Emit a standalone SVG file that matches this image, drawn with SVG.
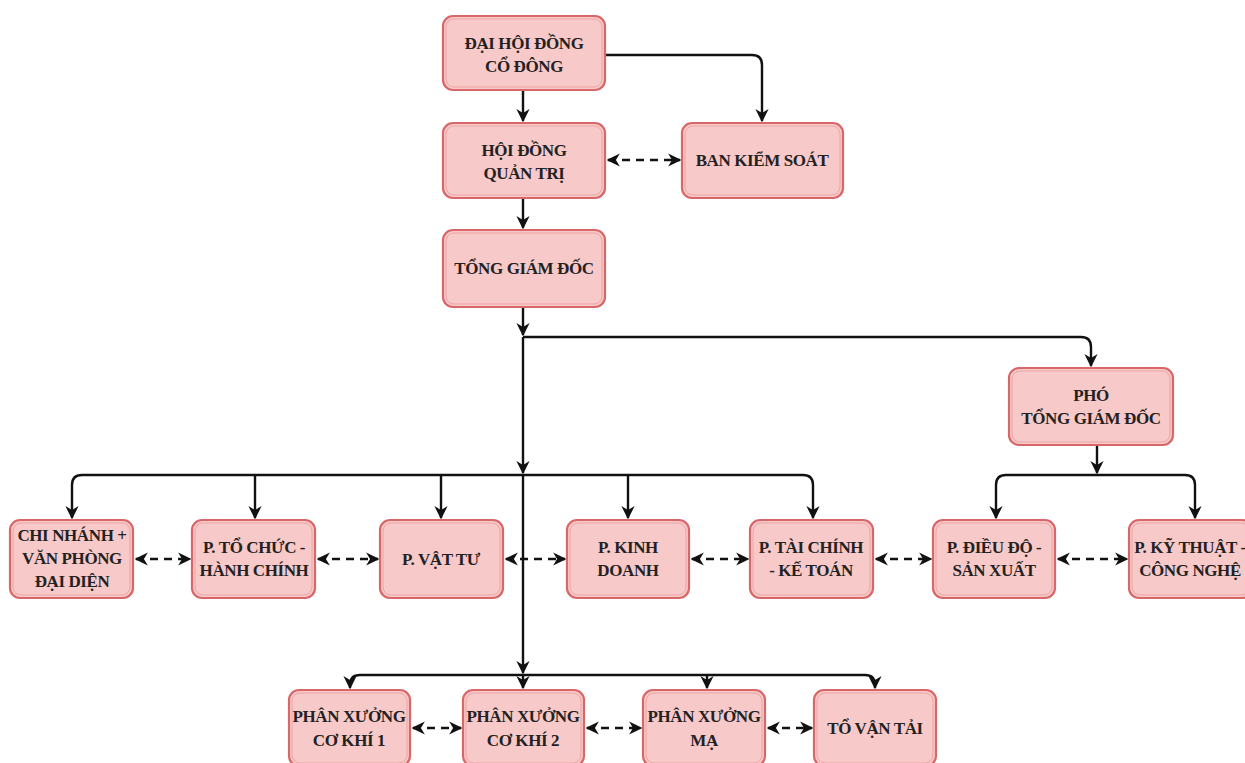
<svg xmlns="http://www.w3.org/2000/svg" width="1245" height="763" viewBox="0 0 1245 763">
<style>
.box{fill:#f8c9c9;stroke:#d8676a;stroke-width:2.2}
.inner{fill:none;stroke:#eea3a3;stroke-width:1}
.t{font-family:"Liberation Serif","Times New Roman","DejaVu Serif",serif;font-weight:bold;font-size:17px;letter-spacing:-0.4px;fill:#222;text-anchor:middle}
.e{fill:none;stroke:#111;stroke-width:2.4}
.d{fill:none;stroke:#111;stroke-width:2.4;stroke-dasharray:8 6}
</style>
<defs>
<marker id="ah" viewBox="0 0 10 10" refX="9" refY="5" markerWidth="5.5" markerHeight="5.5" orient="auto" markerUnits="strokeWidth">
<path d="M0,0 L10,5 L0,10 L3,5 z" fill="#111"/>
</marker>
<marker id="as" viewBox="0 0 10 10" refX="9" refY="5" markerWidth="5.5" markerHeight="5.5" orient="auto-start-reverse" markerUnits="strokeWidth">
<path d="M0,0 L10,5 L0,10 L3,5 z" fill="#111"/>
</marker>
</defs>
<rect width="1245" height="763" fill="#fff"/>
<g id="connectors">
<path class="e" d="M523,90 V121" marker-end="url(#ah)"/>
<path class="e" d="M605,55 H752 Q762,55 762,65 V121" marker-end="url(#ah)"/>
<path class="d" d="M608,160 H680" marker-start="url(#as)" marker-end="url(#ah)"/>
<path class="e" d="M523,198 V228" marker-end="url(#ah)"/>
<path class="e" d="M523,307 V335" marker-end="url(#ah)"/>
<path class="e" d="M523,337 H1081 Q1091,337 1091,347 V366" marker-end="url(#ah)"/>
<path class="e" d="M523,337 V473" marker-end="url(#ah)"/>
<path class="e" d="M523,475 H82 Q72,475 72,485 V518" marker-end="url(#ah)"/>
<path class="e" d="M523,475 H803 Q813,475 813,485 V518" marker-end="url(#ah)"/>
<path class="e" d="M255,475 V518" marker-end="url(#ah)"/>
<path class="e" d="M441,475 V518" marker-end="url(#ah)"/>
<path class="e" d="M628,475 V518" marker-end="url(#ah)"/>
<path class="e" d="M523,475 V673" marker-end="url(#ah)"/>
<path class="e" d="M523,675 H360 Q350,675 350,685 V688" marker-end="url(#ah)"/>
<path class="e" d="M523,675 H865 Q875,675 875,685 V688" marker-end="url(#ah)"/>
<path class="e" d="M523,675 V688" marker-end="url(#ah)"/>
<path class="e" d="M707,675 V688" marker-end="url(#ah)"/>
<path class="e" d="M1097,445 V473" marker-end="url(#ah)"/>
<path class="e" d="M1097,475 H1006 Q996,475 996,485 V518" marker-end="url(#ah)"/>
<path class="e" d="M1097,475 H1185 Q1195,475 1195,485 V518" marker-end="url(#ah)"/>
<path class="d" d="M136,559 H190" marker-start="url(#as)" marker-end="url(#ah)"/>
<path class="d" d="M318,559 H378" marker-start="url(#as)" marker-end="url(#ah)"/>
<path class="d" d="M506,559 H565" marker-start="url(#as)" marker-end="url(#ah)"/>
<path class="d" d="M692,559 H748" marker-start="url(#as)" marker-end="url(#ah)"/>
<path class="d" d="M876,559 H931" marker-start="url(#as)" marker-end="url(#ah)"/>
<path class="d" d="M1058,559 H1127" marker-start="url(#as)" marker-end="url(#ah)"/>
<path class="d" d="M413,728 H461" marker-start="url(#as)" marker-end="url(#ah)"/>
<path class="d" d="M587,728 H641" marker-start="url(#as)" marker-end="url(#ah)"/>
<path class="d" d="M768,728 H812" marker-start="url(#as)" marker-end="url(#ah)"/>
</g>
<g id="n-dhdcd"><rect class="box" x="443" y="16" width="162" height="74" rx="10"/><rect class="inner" x="446" y="19" width="156" height="68" rx="8"/><text class="t" x="524" y="49">ĐẠI HỘI ĐỒNG</text><text class="t" x="524" y="72">CỔ ĐÔNG</text></g>
<g id="n-hdqt"><rect class="box" x="443" y="123" width="162" height="75" rx="10"/><rect class="inner" x="446" y="126" width="156" height="69" rx="8"/><text class="t" x="524" y="156">HỘI ĐỒNG</text><text class="t" x="524" y="179">QUẢN TRỊ</text></g>
<g id="n-bks"><rect class="box" x="682" y="123" width="161" height="75" rx="10"/><rect class="inner" x="685" y="126" width="155" height="69" rx="8"/><text class="t" x="762" y="166">BAN KIỂM SOÁT</text></g>
<g id="n-tgd"><rect class="box" x="443" y="230" width="162" height="77" rx="10"/><rect class="inner" x="446" y="233" width="156" height="71" rx="8"/><text class="t" x="524" y="274">TỔNG GIÁM ĐỐC</text></g>
<g id="n-ptgd"><rect class="box" x="1009" y="368" width="164" height="77" rx="10"/><rect class="inner" x="1012" y="371" width="158" height="71" rx="8"/><text class="t" x="1091" y="401">PHÓ</text><text class="t" x="1091" y="424">TỔNG GIÁM ĐỐC</text></g>
<g id="n-chinhanh"><rect class="box" x="10" y="520" width="123" height="78" rx="10"/><rect class="inner" x="13" y="523" width="117" height="72" rx="8"/><text class="t" x="72" y="541">CHI NHÁNH +</text><text class="t" x="72" y="564">VĂN PHÒNG</text><text class="t" x="72" y="587">ĐẠI DIỆN</text></g>
<g id="n-tochuc"><rect class="box" x="192" y="520" width="123" height="78" rx="10"/><rect class="inner" x="195" y="523" width="117" height="72" rx="8"/><text class="t" x="254" y="553">P. TỔ CHỨC -</text><text class="t" x="254" y="576">HÀNH CHÍNH</text></g>
<g id="n-vattu"><rect class="box" x="380" y="520" width="123" height="78" rx="10"/><rect class="inner" x="383" y="523" width="117" height="72" rx="8"/><text class="t" x="441" y="565">P. VẬT TƯ</text></g>
<g id="n-kinhdoanh"><rect class="box" x="567" y="520" width="122" height="78" rx="10"/><rect class="inner" x="570" y="523" width="116" height="72" rx="8"/><text class="t" x="628" y="553">P. KINH</text><text class="t" x="628" y="576">DOANH</text></g>
<g id="n-taichinh"><rect class="box" x="750" y="520" width="123" height="78" rx="10"/><rect class="inner" x="753" y="523" width="117" height="72" rx="8"/><text class="t" x="811" y="553">P. TÀI CHÍNH</text><text class="t" x="811" y="576">- KẾ TOÁN</text></g>
<g id="n-dieudo"><rect class="box" x="933" y="520" width="122" height="78" rx="10"/><rect class="inner" x="936" y="523" width="116" height="72" rx="8"/><text class="t" x="994" y="553">P. ĐIỀU ĐỘ -</text><text class="t" x="994" y="576">SẢN XUẤT</text></g>
<g id="n-kythuat"><rect class="box" x="1129" y="520" width="123" height="78" rx="10"/><rect class="inner" x="1132" y="523" width="117" height="72" rx="8"/><text class="t" x="1190" y="553">P. KỸ THUẬT -</text><text class="t" x="1190" y="576">CÔNG NGHỆ</text></g>
<g id="n-ck1"><rect class="box" x="289" y="690" width="121" height="76" rx="10"/><rect class="inner" x="292" y="693" width="115" height="70" rx="8"/><text class="t" x="349" y="722">PHÂN XƯỞNG</text><text class="t" x="349" y="746">CƠ KHÍ 1</text></g>
<g id="n-ck2"><rect class="box" x="463" y="690" width="121" height="76" rx="10"/><rect class="inner" x="466" y="693" width="115" height="70" rx="8"/><text class="t" x="523" y="722">PHÂN XƯỞNG</text><text class="t" x="523" y="746">CƠ KHÍ 2</text></g>
<g id="n-ma"><rect class="box" x="643" y="690" width="122" height="76" rx="10"/><rect class="inner" x="646" y="693" width="116" height="70" rx="8"/><text class="t" x="704" y="722">PHÂN XƯỞNG</text><text class="t" x="704" y="746">MẠ</text></g>
<g id="n-vantai"><rect class="box" x="814" y="690" width="122" height="76" rx="10"/><rect class="inner" x="817" y="693" width="116" height="70" rx="8"/><text class="t" x="875" y="734">TỔ VẬN TẢI</text></g>
</svg>
